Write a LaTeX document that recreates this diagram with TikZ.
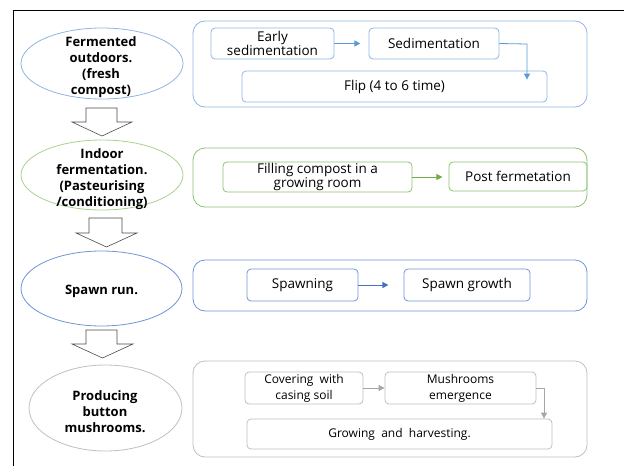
\documentclass[tikz,border=0pt]{standalone}
\usepackage{fontspec}
\setmainfont{Open Sans}
\usetikzlibrary{arrows.meta,shapes.geometric}
\definecolor{cblue}{HTML}{8FB4E3}
\definecolor{cblueA}{HTML}{5B9BD5}
\definecolor{cgreen}{HTML}{8DC26F}
\definecolor{cgreenE}{HTML}{A9D18E}
\definecolor{cgreenA}{HTML}{70AD47}
\definecolor{cspawn}{HTML}{6F94D8}
\definecolor{cspawnA}{HTML}{4472C4}
\definecolor{cgray}{HTML}{BFBFBF}
\definecolor{cgrayA}{HTML}{A6A6A6}
\tikzset{
  stagetext/.style={font=\fontsize{13}{16}\selectfont\bfseries, align=center, inner sep=0pt},
  oval/.style={line width=0.8pt},
  outer/.style={draw, rounded corners=12pt, line width=0.8pt},
  inbox/.style={draw, rounded corners=4pt, line width=0.8pt, font=\fontsize{13.5}{13}\selectfont, align=center, inner sep=0pt},
  smallbox/.style={inbox, font=\fontsize{12}{16}\selectfont},
  link/.style={line width=0.8pt, -{Triangle[length=6pt,width=6pt]}},
  blockarrow/.style={draw=black!70, fill=white, line width=0.6pt}
}
\begin{document}
\begin{tikzpicture}[x=1pt,y=-1pt]
\useasboundingbox (0,0) rectangle (624,466);
% frame
\draw[line width=0.8pt] (13,466) -- (13,10.5) -- (624,10.5);

% stage 1
\draw[oval, draw=cblue] (102,63.5) ellipse [x radius=81, y radius=35.5];
\node[stagetext] (e1) at (101,67) {Fermented\\outdoors.\\(fresh\\compost)};
\draw[outer, draw=cblue] (193,21) rectangle (587,107);
\node[inbox, draw=cblue, minimum width=123pt, minimum height=31pt] (a1) at (272.5,43.5) {Early\\sedimentation};
\node[inbox, draw=cblue, minimum width=130pt, minimum height=31pt] (a2) at (434,43.5) {Sedimentation};
\node[inbox, draw=cblue, minimum width=305pt, minimum height=31pt] (a3) at (394.5,86.5) {Flip (4 to 6 time)};
\draw[link, draw=cblueA] (a1.east) -- ([xshift=26pt]a1.east);
\coordinate (c1) at (527,44);
\draw[link, draw=cblueA] (a2.east) -- (c1) -- ([yshift=-9pt]c1 |- a3.north);

% arrow 1
\draw[blockarrow] (86,108) -- (117,108) -- (117,122) -- (132,122) -- (102,136) -- (72,122) -- (86,122) -- cycle;

% stage 2
\draw[oval, draw=cgreenE] (102,175) ellipse [x radius=81, y radius=35];
\node[stagetext] (e2) at (102,179) {Indoor\\fermentation.\\(Pasteurising\\/conditioning)};
\draw[outer, draw=cgreen] (193,148) rectangle (587,207);
\node[inbox, draw=cgreen, minimum width=189pt, minimum height=30pt] (b1) at (317.5,177) {Filling compost in a\\growing room};
\node[inbox, draw=cgreen, minimum width=138pt, minimum height=29pt] (b2) at (518,176.5) {Post fermetation};
\draw[link, draw=cgreenA] (b1.east) -- ([xshift=30pt]b1.east);

% arrow 2
\draw[blockarrow] (89,218) -- (122,218) -- (122,233) -- (137,233) -- (106.5,247) -- (76,233) -- (89,233) -- cycle;

% stage 3
\draw[oval, draw=cspawn] (101.5,288.5) ellipse [x radius=80.5, y radius=37.5];
\node[stagetext] (e3) at (101.5,291) {Spawn run.};
\draw[outer, draw=cspawn] (193,260) rectangle (587,311);
\node[inbox, draw=cspawn, minimum width=111pt, minimum height=32pt] (s1) at (302.5,285) {Spawning};
\node[inbox, draw=cspawn, minimum width=126pt, minimum height=32pt] (s2) at (467,285) {Spawn growth};
\draw[link, draw=cspawnA] (s1.east) -- ([xshift=30pt]s1.east);

% arrow 3
\draw[blockarrow] (86,330) -- (117,330) -- (117,344) -- (133,344) -- (102.5,358) -- (72,344) -- (86,344) -- cycle;

% stage 4
\draw[oval, draw=cgray] (105.5,408) ellipse [x radius=76.5, y radius=43];
\node[stagetext] (e4) at (105,412) {Producing\\button\\mushrooms.};
\draw[outer, draw=cgray] (193,361) rectangle (587,457);
\node[smallbox, draw=cgray, minimum width=118pt, minimum height=32pt] (g1) at (304,388) {Covering~~with\\casing soil};
\node[smallbox, draw=cgray, minimum width=151pt, minimum height=32pt] (g2) at (460.5,388) {Mushrooms\\emergence};
\node[smallbox, draw=cgray, minimum width=305pt, minimum height=30pt] (g3) at (399.5,434) {Growing~~and~~harvesting.};
\draw[link, draw=cgrayA] (g1.east) -- (g2.west);
\coordinate (c4) at (544,388);
\draw[link, draw=cgrayA] (g2.east) -- (c4) -- (c4 |- g3.north);
\end{tikzpicture}
\end{document}
